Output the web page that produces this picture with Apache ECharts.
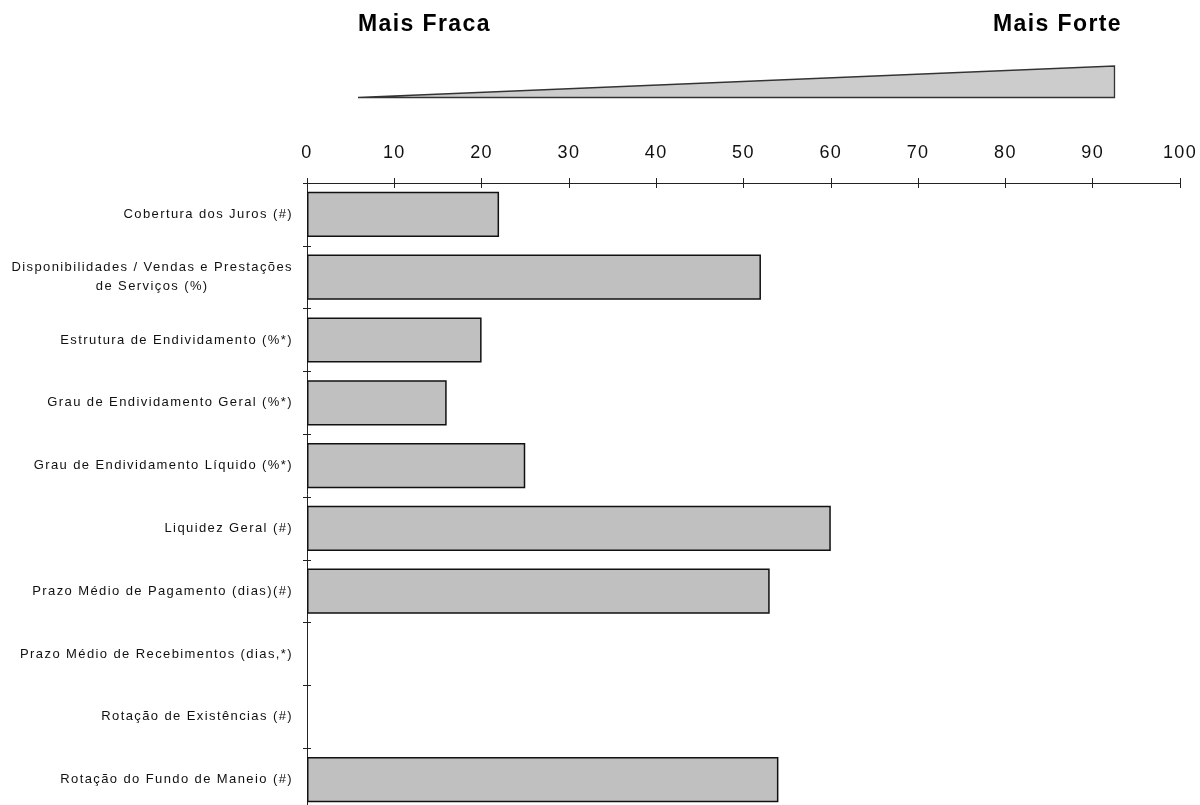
<!DOCTYPE html>
<html>
<head>
<meta charset="utf-8">
<script src="https://cdn.jsdelivr.net/npm/echarts@6/dist/echarts.min.js"></script>
<style>
  html, body { margin: 0; padding: 0; background: #fff; }
  #chart { width: 1200px; height: 805px; }
</style>
</head>
<body>
<div id="chart"></div>
<script>
// Indicator names (top to bottom) and their scores on a 0–100 scale
const categories = [
  'Cobertura dos Juros (#)',
  'Disponibilidades / Vendas e Prestações\nde Serviços (%)',
  'Estrutura de Endividamento (%*)',
  'Grau de Endividamento Geral (%*)',
  'Grau de Endividamento Líquido (%*)',
  'Liquidez Geral (#)',
  'Prazo Médio de Pagamento (dias)(#)',
  'Prazo Médio de Recebimentos (dias,*)',
  'Rotação de Existências (#)',
  'Rotação do Fundo de Maneio (#)'
];
const scores = [22, 52, 20, 16, 25, 60, 53, 0, 0, 54];

const scaleMin = 0;
const scaleMax = 100;
const scaleStep = 10;
const weakLabel = 'Mais Fraca';
const strongLabel = 'Mais Forte';

// The typeface used here is set a little loose: add tracking to every canvas font
(function () {
  const proto = window.CanvasRenderingContext2D && CanvasRenderingContext2D.prototype;
  if (!proto) return;
  const desc = Object.getOwnPropertyDescriptor(proto, 'font');
  if (!desc || !desc.set || !('letterSpacing' in proto)) return;
  Object.defineProperty(proto, 'font', {
    configurable: true,
    enumerable: desc.enumerable,
    get: function () { return desc.get.call(this); },
    set: function (v) { desc.set.call(this, v); this.letterSpacing = '1.4px'; }
  });
})();

const chart = echarts.init(document.getElementById('chart'), null, { renderer: 'canvas' });

const FONT = 'Liberation Sans, Arial, sans-serif';
const axisColor = '#222';

// Category labels: two-line entries get their second line centred under the first
function catFormatter(v) {
  const parts = v.split('\n');
  if (parts.length === 1) return v;
  return '{a|' + parts[0] + '}\n{b|' + parts[1] + '}';
}

// Empty (zero) scores leave no outline behind
const barData = scores.map(v => (v === 0 ? { value: v, itemStyle: { borderWidth: 0 } } : v));

const option = {
  animation: false,
  backgroundColor: '#ffffff',
  // the last row runs a little past the bottom edge of the page
  grid: { left: 307, right: 20, top: 183, height: 628, containLabel: false, outerBoundsMode: 'none' },
  xAxis: [
    {
      type: 'value', position: 'top', min: scaleMin, max: scaleMax, interval: scaleStep,
      axisLine: { show: true, lineStyle: { color: axisColor, width: 1 } },
      axisTick: { show: true, inside: false, length: 5, lineStyle: { color: axisColor } },
      axisLabel: { show: true, margin: 20, color: '#111', fontSize: 18, fontFamily: FONT },
      splitLine: { show: false }
    },
    {
      type: 'value', position: 'top', min: scaleMin, max: scaleMax, interval: scaleStep,
      axisLine: { show: false },
      axisTick: { show: true, inside: true, length: 5, lineStyle: { color: axisColor } },
      axisLabel: { show: false },
      splitLine: { show: false }
    }
  ],
  yAxis: [
    {
      type: 'category', inverse: true, data: categories,
      axisLine: { show: true, lineStyle: { color: axisColor, width: 1 } },
      axisTick: { show: true, inside: false, length: 4, lineStyle: { color: axisColor } },
      axisLabel: {
        show: true, margin: 14, color: '#111', fontSize: 13, fontFamily: FONT,
        align: 'right', lineHeight: 19,
        formatter: catFormatter,
        rich: {
          a: { fontSize: 13, fontFamily: FONT, color: '#111', align: 'right', lineHeight: 19 },
          b: { fontSize: 13, fontFamily: FONT, color: '#111', align: 'center', lineHeight: 19 }
        }
      },
      splitLine: { show: false }
    },
    {
      type: 'category', inverse: true, data: categories, position: 'left',
      axisLine: { show: false },
      axisTick: { show: true, inside: true, length: 4, lineStyle: { color: axisColor } },
      axisLabel: { show: false },
      splitLine: { show: false }
    }
  ],
  series: [
    {
      type: 'bar',
      xAxisIndex: 0,
      yAxisIndex: 0,
      data: barData,
      barCategoryGap: '28%',
      itemStyle: { color: '#c0c0c0', borderColor: '#111', borderWidth: 1.5 },
      emphasis: { disabled: true }
    }
  ],
  graphic: [
    {
      type: 'polygon',
      shape: { points: [[358, 97.5], [1114.5, 97.5], [1114.5, 66]] },
      style: { fill: '#cccccc', stroke: '#333', lineWidth: 1.3 }
    },
    {
      type: 'text', x: 358, y: 12,
      style: { text: weakLabel, font: 'bold 23px ' + FONT, fill: '#000', align: 'left', verticalAlign: 'top' }
    },
    {
      type: 'text', x: 1122, y: 12,
      style: { text: strongLabel, font: 'bold 23px ' + FONT, fill: '#000', align: 'right', verticalAlign: 'top' }
    }
  ]
};

chart.setOption(option);
</script>
</body>
</html>
